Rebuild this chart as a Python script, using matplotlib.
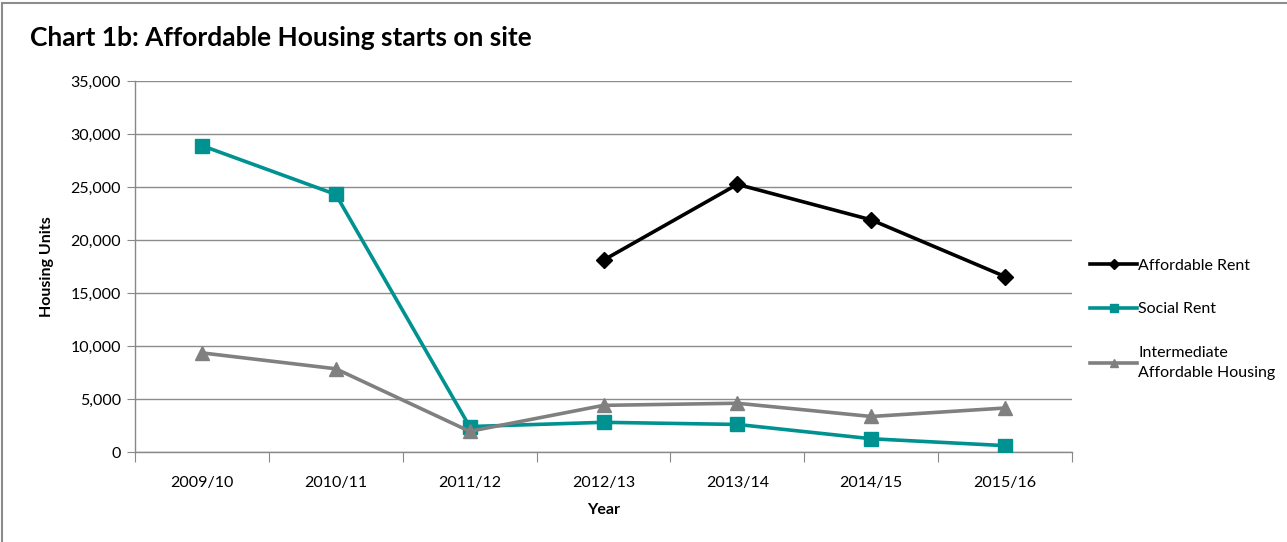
import matplotlib
matplotlib.use("Agg")
import matplotlib.pyplot as plt
from matplotlib.patches import Rectangle
import numpy as np

years = ["2009/10", "2010/11", "2011/12", "2012/13", "2013/14", "2014/15", "2015/16"]
affordable_rent = [np.nan, np.nan, np.nan, 18100, 25250, 21900, 16550]
social_rent = [28900, 24300, 2400, 2800, 2600, 1250, 600]
intermediate = [9350, 7850, 1950, 4400, 4600, 3350, 4150]

plt.rcParams['font.family'] = ['Lato', 'DejaVu Sans']

fig = plt.figure(figsize=(12.87, 5.42), dpi=100)
ax = fig.add_axes([135/1287, 1-452/542, (1072-135)/1287, (452-81)/542])

x = np.arange(len(years))
ax.plot(x, affordable_rent, color='black', lw=2.6, marker='D', ms=8, label='Affordable Rent', zorder=4)
ax.plot(x, social_rent, color='#009191', lw=2.6, marker='s', ms=10, label='Social Rent', zorder=3)
ax.plot(x, intermediate, color='#808080', lw=2.6, marker='^', ms=10, label='Intermediate\nAffordable Housing', zorder=3)

ax.set_xlim(-0.5, len(years) - 0.5)
ax.set_ylim(0, 35000)
ax.set_yticks(np.arange(0, 35001, 5000))
ax.set_yticklabels([f"{v:,}" for v in range(0, 35001, 5000)], fontsize=11.5)
ax.set_xticks(np.arange(-0.5, len(years), 1.0))
ax.set_xticklabels([])
ax.set_xticks(x, minor=True)
ax.set_xticklabels(years, minor=True, fontsize=11.5)
ax.tick_params(axis='x', which='minor', length=0, pad=17)
ax.tick_params(axis='x', which='major', length=7, color='#888888', direction='out')
ax.tick_params(axis='y', length=6, color='#888888', direction='out', pad=4)
ax.grid(axis='y', color='#8c8c8c', lw=1)
ax.set_axisbelow(True)
for s in ['top', 'right']:
    ax.spines[s].set_visible(False)
for s in ['left', 'bottom']:
    ax.spines[s].set_color('#888888')
    ax.spines[s].set_linewidth(1)

ax.set_xlabel('Year', fontsize=11.5, fontweight='bold', labelpad=10)
ax.set_ylabel('Housing Units', fontsize=11.5, fontweight='bold', labelpad=12)

fig.text(30/1287, 1-38/542, 'Chart 1b: Affordable Housing starts on site', fontsize=19,
         fontweight='bold', va='center', ha='left')

leg = fig.legend(loc='upper left', bbox_to_anchor=(1084/1287, 1-252/542), frameon=False,
                 fontsize=11.5, handlelength=2.9, handletextpad=0.1, labelspacing=1.85,
                 borderaxespad=0, markerscale=0.6)
leg.get_texts()[2].set_linespacing(1.55)

fig.add_artist(Rectangle((2/1287, -0.1), 2, 1.1 - 3/542, transform=fig.transFigure,
                         fill=False, edgecolor='#8c8c8c', lw=1.5))

fig.savefig('out.png', dpi=100)
